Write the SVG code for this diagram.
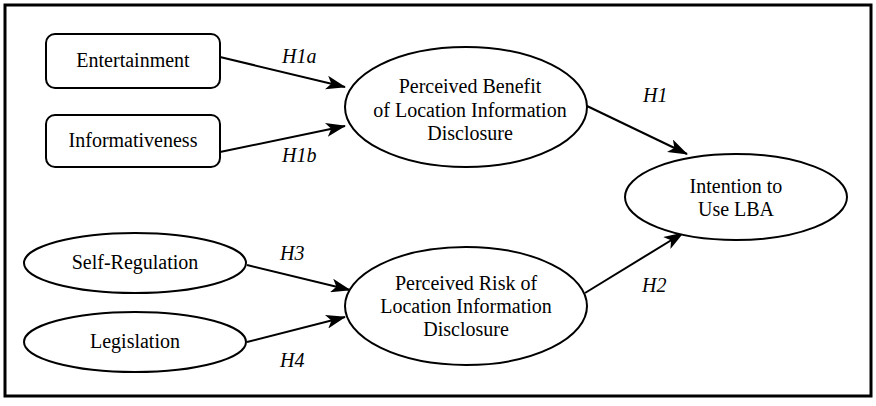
<svg xmlns="http://www.w3.org/2000/svg" width="876" height="406" viewBox="0 0 876 406">
<style>
.n{fill:#fff;stroke:#000;stroke-width:2}
.t{font-family:"Liberation Serif","Times New Roman",serif;font-size:20px;fill:#000;text-anchor:middle}
.l{font-family:"Liberation Serif","Times New Roman",serif;font-size:20px;font-style:italic;fill:#000}
.c{stroke:#000;stroke-width:2;fill:none;marker-end:url(#ah)}
</style>
<defs>
<marker id="ah" markerWidth="20" markerHeight="14" refX="19" refY="7" orient="auto" markerUnits="userSpaceOnUse">
<path d="M0,0 L20,7 L0,14 L5,7 Z" fill="#000"/>
</marker>
</defs>
<rect x="5" y="5" width="866" height="391" fill="#fff" stroke="#000" stroke-width="3"/>
<g id="connectors">
<line class="c" x1="220" y1="57" x2="345" y2="87"/>
<line class="c" x1="220" y1="152" x2="345" y2="126"/>
<line class="c" x1="587" y1="106" x2="687" y2="154"/>
<line class="c" x1="585" y1="293" x2="683" y2="233"/>
<line class="c" x1="247" y1="265" x2="350" y2="290"/>
<line class="c" x1="247" y1="342" x2="345" y2="317"/>
<text class="l" x="282" y="63">H1a</text>
<text class="l" x="282" y="162">H1b</text>
<text class="l" x="643" y="102">H1</text>
<text class="l" x="642" y="292">H2</text>
<text class="l" x="280" y="260">H3</text>
<text class="l" x="280" y="367">H4</text>
</g>
<g id="entertainment">
<rect class="n" x="46" y="34" width="174" height="54" rx="9"/>
<text class="t" x="133" y="67">Entertainment</text>
</g>
<g id="informativeness">
<rect class="n" x="46" y="115" width="174" height="52" rx="9"/>
<text class="t" x="133" y="147">Informativeness</text>
</g>
<g id="benefit">
<ellipse class="n" cx="466" cy="107" rx="121" ry="60"/>
<text class="t" x="470" y="93">Perceived Benefit</text>
<text class="t" x="470" y="117">of Location Information</text>
<text class="t" x="470" y="140">Disclosure</text>
</g>
<g id="intention">
<ellipse class="n" cx="736" cy="197" rx="111" ry="43"/>
<text class="t" x="736" y="193">Intention to</text>
<text class="t" x="736" y="216">Use LBA</text>
</g>
<g id="selfregulation">
<ellipse class="n" cx="135" cy="263" rx="111" ry="30"/>
<text class="t" x="135" y="269">Self-Regulation</text>
</g>
<g id="legislation">
<ellipse class="n" cx="135" cy="342" rx="111" ry="30"/>
<text class="t" x="135" y="348">Legislation</text>
</g>
<g id="risk">
<ellipse class="n" cx="466" cy="306" rx="121" ry="59"/>
<text class="t" x="466" y="290">Perceived Risk of</text>
<text class="t" x="466" y="313">Location Information</text>
<text class="t" x="466" y="336">Disclosure</text>
</g>
</svg>
